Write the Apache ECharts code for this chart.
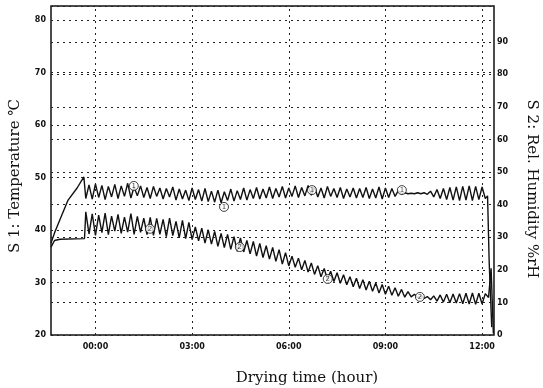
<!DOCTYPE html>
<html>
<head>
<meta charset="utf-8">
<script src="https://cdn.jsdelivr.net/npm/echarts@6/dist/echarts.min.js"></script>
<style>
  html, body { margin: 0; padding: 0; background: #fff; }
  #chart { width: 543px; height: 388px; }
</style>
</head>
<body>
<div id="chart"></div>
<script>
// x ticks (hours of drying)
const gridHours = [0, 3, 6, 9, 12];
const hourLabels = ["00:00", "03:00", "06:00", "09:00", "12:00"];
// right axis grid (%rH)
const humGrid = [10, 20, 30, 40, 50, 60, 70, 80, 90];

// S1 temperature: heat-up ramp, oscillating part (every 0.1 h), final drop
const tempRamp = [[-1.38, 37.5], [-1.26, 39.6], [-1.04, 42.9], [-0.85, 45.7], [-0.57, 48.0], [-0.36, 50.1]];
const oscStart = -0.3;
const oscStep = 0.1;
const tempOsc = [
  46.0, 48.6, 45.9, 48.8, 46.2, 48.5, 45.8, 48.3, 46.3, 48.7,
  46.0, 48.4, 46.4, 48.9, 46.1, 48.2, 46.5, 48.4, 46.2, 48.1,
  46.0, 48.3, 46.4, 48.0, 45.9, 47.9, 46.3, 48.2, 45.7, 47.8,
  45.9, 47.6, 45.6, 48.0, 45.8, 47.7, 45.5, 47.9, 45.4, 47.4,
  45.3, 47.6, 45.2, 47.3, 45.6, 47.8, 45.5, 47.5, 45.8, 48.0,
  45.7, 47.7, 46.0, 48.1, 45.9, 47.8, 46.1, 48.2, 46.0, 47.9,
  46.3, 48.3, 46.1, 48.0, 46.4, 48.4, 46.2, 48.1, 46.5, 48.5,
  46.6, 48.2, 46.3, 48.0, 46.1, 48.3, 46.4, 47.9, 46.2, 48.1,
  46.0, 47.8, 46.3, 48.0, 46.1, 47.9, 46.2, 48.1, 46.0, 47.8,
  46.1, 48.2, 45.9, 48.0, 46.2, 47.9, 46.4, 47.5, 46.9, 47.1,
  46.9, 47.0, 46.9, 47.1, 46.9, 47.1, 46.8, 47.4, 46.3, 47.7,
  46.0, 47.9, 45.8, 48.1, 45.7, 48.2, 45.6, 48.3, 45.7, 48.4,
  45.6, 48.3, 45.8, 48.2, 46.0
];
const tempEnd = [[12.17, 46.5], [12.22, 34.0], [12.3, 21.5]];

// S2 relative humidity
const humRamp = [[-1.38, 27.0], [-1.27, 29.0], [-1.1, 29.4], [-0.34, 29.6]];
const humOsc = [
  37.8, 31.0, 37.2, 30.6, 36.8, 31.4, 37.4, 30.8, 36.5, 31.9,
  37.0, 31.2, 36.2, 31.6, 37.3, 30.9, 36.4, 31.5, 35.9, 30.8,
  36.1, 30.6, 35.8, 30.9, 35.5, 30.2, 35.9, 30.5, 34.9, 29.8,
  35.2, 29.6, 34.6,
  29.3, 33.2, 28.9, 32.8, 28.2, 32.3, 27.9, 31.8, 27.2, 31.2,
  26.8, 30.9, 26.3, 30.2, 25.7, 29.8, 25.5, 29.0, 24.9, 28.7,
  24.2, 28.1, 23.8, 27.4, 23.3, 26.9, 22.6, 26.2, 21.8, 25.3,
  21.2, 24.2, 20.8, 23.6, 20.0, 22.9, 19.3, 22.1, 18.6, 21.3,
  17.9, 20.4, 17.0, 19.6, 16.4, 19.1, 15.9, 18.5, 15.4, 17.9,
  14.8, 17.4, 14.3, 17.0, 13.8, 16.5, 13.4, 16.0, 12.9, 15.5,
  12.5, 15.0, 12.2, 14.5, 11.9, 14.0, 11.6, 13.3, 11.7, 12.5,
  11.4, 12.0, 11.2, 11.8, 10.8, 12.0, 10.4, 12.3, 10.1, 12.5,
  9.9, 12.6, 9.8, 12.7, 9.6, 12.8, 9.5, 12.9, 9.4, 12.8,
  9.5, 12.7
];
const humEnd = [[12.2, 11.5], [12.28, 20.5], [12.35, 0.5]];

// circled curve numbers
const mark1 = [[1.19, 48.4], [3.99, 44.4], [6.72, 47.6], [9.51, 47.6]];
const mark2 = [[1.69, 32.6], [4.48, 27.0], [7.21, 17.2], [10.07, 11.7]];

const ink = "#111";
const dotted = { type: [2, 4], color: "#222", width: 1 };
const tickFont = { color: ink, fontSize: 8, fontWeight: "bold", fontFamily: "DejaVu Sans" };
const titleFont = { fill: ink, fontSize: 15, fontFamily: "DejaVu Serif", align: "center", verticalAlign: "middle" };

function withTimes(ramp, osc, end) {
  return ramp.concat(osc.map((v, i) => [oscStart + i * oscStep, v])).concat(end);
}

function circleSeries(data, yAxisIndex, num) {
  return {
    type: "scatter",
    yAxisIndex,
    data,
    symbol: "circle",
    symbolSize: 9,
    z: 5,
    itemStyle: { color: "#fff", borderColor: ink, borderWidth: 1 },
    label: { show: true, position: "inside", formatter: num, fontSize: 7, color: ink, fontFamily: "DejaVu Sans" },
    silent: true,
  };
}

const chart = echarts.init(document.getElementById("chart"), null, { renderer: "canvas" });

chart.setOption({
  animation: false,
  backgroundColor: "#fff",
  grid: {
    left: 51, right: 49, top: 6, bottom: 53,
    show: true, borderColor: ink, borderWidth: 1.5,
    outerBoundsMode: "none",
  },
  xAxis: {
    type: "value",
    min: -1.38,
    max: 12.37,
    axisLine: { show: false },
    axisTick: { show: false },
    splitLine: { show: false },
    axisLabel: {
      ...tickFont,
      customValues: gridHours,
      margin: 8,
      formatter: (v) => hourLabels[gridHours.indexOf(v)] || "",
    },
  },
  yAxis: [
    {
      type: "value",
      position: "left",
      min: 20,
      max: 82.67,
      interval: 10,
      axisLine: { show: false },
      axisTick: { show: false },
      axisLabel: { ...tickFont, margin: 5, showMaxLabel: false, formatter: (v) => (v % 10 === 0 ? v : "") },
      splitLine: { show: true, lineStyle: dotted },
    },
    {
      type: "value",
      position: "right",
      min: 0,
      max: 101,
      interval: 10,
      axisLine: { show: false },
      axisTick: { show: false },
      axisLabel: { ...tickFont, margin: 3, formatter: (v) => (v <= 90 && v % 10 === 0 ? v : "") },
      splitLine: { show: false },
    },
  ],
  series: [
    {
      name: "S1",
      type: "line",
      yAxisIndex: 0,
      data: withTimes(tempRamp, tempOsc, tempEnd),
      showSymbol: false,
      lineStyle: { color: ink, width: 1.4 },
      z: 3,
      markLine: {
        silent: true,
        symbol: ["none", "none"],
        label: { show: false },
        lineStyle: dotted,
        data: gridHours.map((h) => ({ xAxis: h })),
      },
    },
    {
      name: "S2",
      type: "line",
      yAxisIndex: 1,
      data: withTimes(humRamp, humOsc, humEnd),
      showSymbol: false,
      lineStyle: { color: ink, width: 1.4 },
      z: 3,
      markLine: {
        silent: true,
        symbol: ["none", "none"],
        label: { show: false },
        lineStyle: dotted,
        data: humGrid.map((v) => ({ yAxis: v })),
      },
    },
    circleSeries(mark1, 0, "1"),
    circleSeries(mark2, 1, "2"),
  ],
  graphic: [
    { type: "text", x: 307, y: 378, style: { ...titleFont, text: "Drying time (hour)" } },
    { type: "text", x: 15, y: 176, rotation: Math.PI / 2, style: { ...titleFont, text: "S 1: Temperature ℃" } },
    { type: "text", x: 532, y: 189, rotation: -Math.PI / 2, style: { ...titleFont, text: "S 2: Rel. Humidity %rH" } },
  ],
});
</script>
</body>
</html>
